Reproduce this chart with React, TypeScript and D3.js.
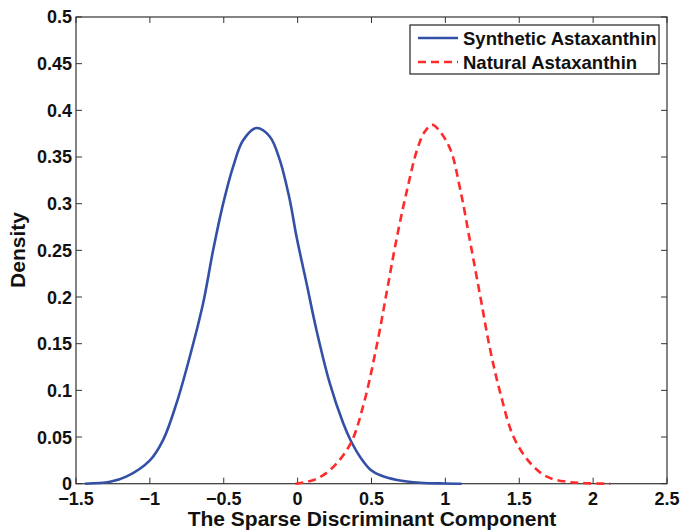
import React from "react";
import * as d3 from "d3";

const synX = [-1.44, -1.27, -1.16, -1.0, -0.91, -0.82, -0.73, -0.64, -0.572, -0.504, -0.436, -0.369, -0.279, -0.189, -0.121, -0.053, -0.008, 0.06, 0.127, 0.217, 0.308, 0.36, 0.43, 0.493, 0.56, 0.673, 0.83, 1.0, 1.11];
const synY = [0.0, 0.002, 0.0075, 0.025, 0.047, 0.086, 0.136, 0.193, 0.25, 0.30, 0.34, 0.368, 0.381, 0.372, 0.347, 0.304, 0.265, 0.215, 0.165, 0.108, 0.065, 0.046, 0.027, 0.015, 0.009, 0.004, 0.001, 0.0002, 0.0];

const natX = [-0.015, 0.109, 0.222, 0.358, 0.448, 0.538, 0.606, 0.673, 0.741, 0.809, 0.86, 0.91, 0.96, 1.034, 1.101, 1.169, 1.237, 1.304, 1.372, 1.462, 1.575, 1.688, 1.823, 1.95, 2.117];
const natY = [0.0, 0.004, 0.015, 0.043, 0.086, 0.150, 0.208, 0.265, 0.315, 0.358, 0.377, 0.3845, 0.378, 0.358, 0.315, 0.258, 0.200, 0.143, 0.097, 0.050, 0.022, 0.0075, 0.002, 0.0005, 0.0];

const xTicks = [-1.5, -1, -0.5, 0, 0.5, 1, 1.5, 2, 2.5];
const yTicks = [0, 0.05, 0.1, 0.15, 0.2, 0.25, 0.3, 0.35, 0.4, 0.45, 0.5];

const seriesNames = ["Synthetic Astaxanthin", "Natural Astaxanthin"];
const xLabel = "The Sparse Discriminant Component";
const yLabel = "Density";

const fmt = (v: number) => {
  const s = String(v);
  return s.startsWith("-") ? "\u2212" + s.slice(1) : s;
};

export default function App() {
  const W = 681, H = 531;
  const L = 76, R = 667, T = 17, B = 483.7;
  const x = d3.scaleLinear().domain([-1.5, 2.5]).range([L, R]);
  const y = d3.scaleLinear().domain([0, 0.5]).range([B, T]);
  const line = d3.line<[number, number]>().x(d => x(d[0])).y(d => Math.min(B, y(d[1]))).curve(d3.curveCatmullRom.alpha(0.5));
  const syn = line(synX.map((v, i) => [v, synY[i]] as [number, number])) || "";
  const nat = line(natX.map((v, i) => [v, natY[i]] as [number, number])) || "";
  const font = "'Liberation Sans', Arial, Helvetica, sans-serif";
  const blue = "#3450a6";
  const red = "#ff2a2a";
  const axisCol = "#333";
  const tl = 6;
  return (
    <div style={{ position: "fixed", left: 0, top: 0, width: W, height: H, overflow: "hidden" }}>
      <svg width={W} height={H} style={{ display: "block", background: "#fff" }} fontFamily={font} fontWeight="bold">
        <rect x={0} y={0} width={W} height={H} fill="#fff" />
        {xTicks.map((t, i) => (
          <g key={"xt" + i}>
            <line x1={x(t)} x2={x(t)} y1={B} y2={B - tl} stroke={axisCol} strokeWidth={1} />
            <line x1={x(t)} x2={x(t)} y1={T} y2={T + tl} stroke={axisCol} strokeWidth={1} />
            <text x={x(t)} y={505} textAnchor="middle" fontSize={18} fill="#111">{fmt(t)}</text>
          </g>
        ))}
        {yTicks.map((t, i) => (
          <g key={"yt" + i}>
            <line x1={L} x2={L + tl} y1={y(t)} y2={y(t)} stroke={axisCol} strokeWidth={1} />
            <line x1={R} x2={R - tl} y1={y(t)} y2={y(t)} stroke={axisCol} strokeWidth={1} />
            <text x={72} y={y(t)} dy="0.36em" textAnchor="end" fontSize={18} fill="#111">{fmt(t)}</text>
          </g>
        ))}
        <rect x={L} y={T} width={R - L} height={B - T} fill="none" stroke={axisCol} strokeWidth={1.2} />
        <path d={syn} fill="none" stroke={blue} strokeWidth={2.6} />
        <path d={nat} fill="none" stroke={red} strokeWidth={2.6} strokeDasharray="8,5" />
        <rect x={410} y={25} width={249} height={49} fill="#fff" stroke="#222" strokeWidth={1.2} />
        <line x1={418} x2={458} y1={38} y2={38} stroke={blue} strokeWidth={2.6} />
        <line x1={418} x2={458} y1={62} y2={62} stroke={red} strokeWidth={2.6} strokeDasharray="8,5" />
        <text x={463} y={38} dy="0.36em" fontSize={18.5} fill="#111">{seriesNames[0]}</text>
        <text x={463} y={62} dy="0.36em" fontSize={18.5} fill="#111">{seriesNames[1]}</text>
        <text x={372} y={526} textAnchor="middle" fontSize={21} fill="#111">{xLabel}</text>
        <text transform={`translate(25,250) rotate(-90)`} textAnchor="middle" fontSize={21} fill="#111">{yLabel}</text>
      </svg>
    </div>
  );
}
